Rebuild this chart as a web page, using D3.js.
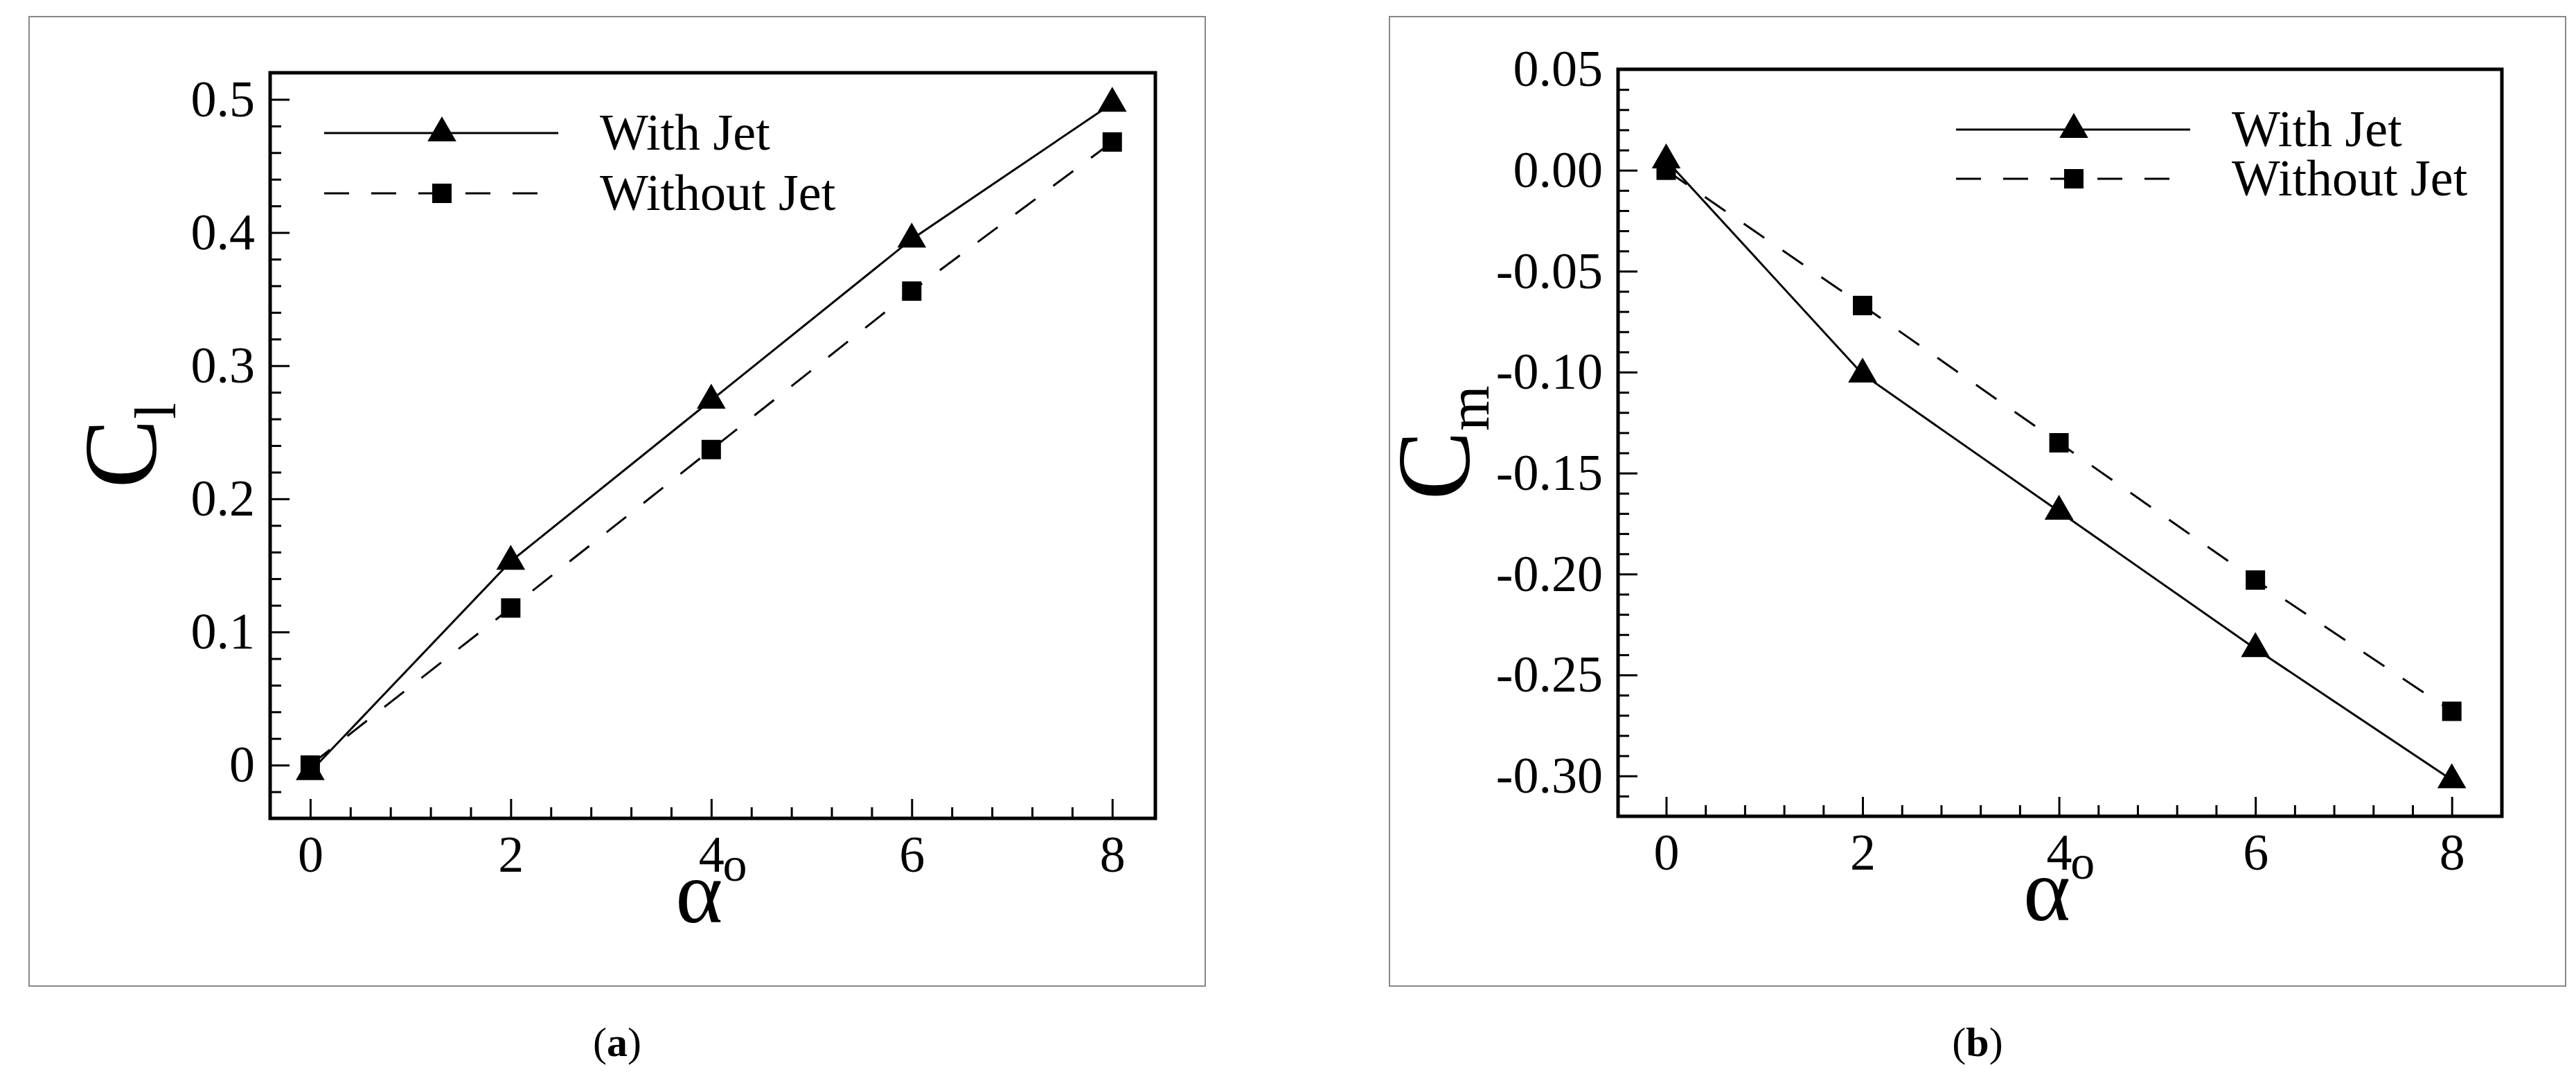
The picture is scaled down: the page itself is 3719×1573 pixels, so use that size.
<!DOCTYPE html>
<html lang="en">
<head>
<meta charset="UTF-8">
<script src="https://d3js.org/d3.v7.min.js"></script>
<style>
  body { margin: 0; background: #fff; }
  text { font-family: "Liberation Serif", "DejaVu Serif", serif; fill: #000; }
</style>
</head>
<body>
<svg id="chart" width="3719" height="1573"></svg>
<script>
// data
const alpha = [0, 2, 4, 6, 8];
const clWithJet = [-0.005, 0.153, 0.274, 0.395, 0.497];
const clWithoutJet = [0, 0.118, 0.237, 0.356, 0.468];
const cmWithJet = [0.005, -0.101, -0.169, -0.237, -0.302];
const cmWithoutJet = [0, -0.067, -0.135, -0.203, -0.268];
const xTicks = [0, 2, 4, 6, 8];
const clTicks = [0, 0.1, 0.2, 0.3, 0.4, 0.5];
const cmTicks = [0.05, 0, -0.05, -0.1, -0.15, -0.2, -0.25, -0.3];
const seriesNames = ["With Jet", "Without Jet"];

const svg = d3.select("#chart");

function panel(o) {
  // outer frame
  svg.append("rect").attr("x", o.frame[0]).attr("y", o.frame[1])
    .attr("width", o.frame[2]).attr("height", o.frame[3])
    .attr("fill", "none").attr("stroke", "#888").attr("stroke-width", 2);

  const x = d3.scaleLinear().domain(o.xdom).range([o.left, o.right]);
  const y = d3.scaleLinear().domain(o.ydom).range([o.bottom, o.top]);
  const g = svg.append("g");

  // minor ticks
  const xMinor = d3.range(0, 8.01, 0.4).filter(v => Math.abs(v / 2 - Math.round(v / 2)) > 1e-6);
  g.append("g").attr("transform", `translate(0,${o.bottom})`)
    .call(d3.axisBottom(x).tickValues(xMinor).tickSize(-16).tickFormat(""))
    .call(a => a.select(".domain").remove());
  g.append("g").attr("transform", `translate(${o.left},0)`)
    .call(d3.axisLeft(y).tickValues(o.yMinor).tickSize(-16).tickFormat(""))
    .call(a => a.select(".domain").remove());

  // major ticks
  g.append("g").attr("transform", `translate(0,${o.bottom})`)
    .call(d3.axisBottom(x).tickValues(xTicks).tickSizeInner(-28).tickSizeOuter(0).tickPadding(24).tickFormat(d3.format("d")))
    .call(a => a.select(".domain").remove())
    .selectAll("text").attr("font-size", 74);
  g.append("g").attr("transform", `translate(${o.left},0)`)
    .call(d3.axisLeft(y).tickValues(o.yTicks).tickSizeInner(-28).tickSizeOuter(0).tickPadding(22).tickFormat(o.fmt))
    .call(a => a.select(".domain").remove())
    .selectAll("text").attr("font-size", 74);
  g.selectAll(".tick line").attr("stroke", "#000").attr("stroke-width", 3);

  // box
  g.append("rect").attr("x", o.left).attr("y", o.top)
    .attr("width", o.right - o.left).attr("height", o.bottom - o.top)
    .attr("fill", "none").attr("stroke", "#000").attr("stroke-width", 5);

  const line = d3.line().x((d, i) => x(alpha[i])).y(d => y(d));
  [o.s1, o.s2].forEach((s, k) => {
    g.append("path").datum(s).attr("d", line).attr("fill", "none")
      .attr("stroke", "#000").attr("stroke-width", 3)
      .attr("stroke-dasharray", k ? "36,32" : null);
  });
  const tri = d3.symbol().type(d3.symbolTriangle).size(750);
  g.selectAll(".tri").data(o.s1).join("path")
    .attr("transform", (d, i) => `translate(${x(alpha[i])},${y(d)})`).attr("d", tri);
  g.selectAll(".sq").data(o.s2).join("rect")
    .attr("x", (d, i) => x(alpha[i]) - 14).attr("y", d => y(d) - 14)
    .attr("width", 28).attr("height", 28);

  // legend
  seriesNames.forEach((n, k) => {
    const ly = o.leg[1] + k * o.leg[3];
    g.append("line").attr("x1", o.leg[0]).attr("x2", o.leg[0] + 338)
      .attr("y1", ly).attr("y2", ly).attr("stroke", "#000").attr("stroke-width", 3)
      .attr("stroke-dasharray", k ? "36,32" : null);
    if (k) g.append("rect").attr("x", o.leg[0] + 156).attr("y", ly - 14).attr("width", 28).attr("height", 28);
    else g.append("path").attr("transform", `translate(${o.leg[0] + 170},${ly})`).attr("d", tri);
    g.append("text").attr("x", o.leg[2]).attr("y", ly + 24).attr("font-size", 74).text(n);
  });

  // axis titles
  const at = g.append("text").attr("x", x(4)).attr("y", o.bottom + 150)
    .attr("text-anchor", "middle").attr("font-size", 130);
  at.append("tspan").text("α");
  at.append("tspan").attr("font-size", 70).attr("dy", -60).text("o");
  const yt = g.append("text").attr("transform", `translate(${o.left - o.ylabOff},${(o.top + o.bottom) / 2}) rotate(-90)`)
    .attr("text-anchor", "middle").attr("font-size", 150);
  yt.append("tspan").text("C");
  yt.append("tspan").attr("font-size", 84).attr("dy", 28).text(o.sub);

  svg.append("text").attr("x", o.frame[0] + o.frame[2] / 2).attr("y", 1524)
    .attr("text-anchor", "middle").attr("font-size", 60)
    .html(`(<tspan font-weight="bold">${o.tag}</tspan>)`);
}

panel({
  frame: [42, 24, 1698, 1399], left: 390, right: 1668, top: 105, bottom: 1181,
  xdom: [-0.4, 8.43], ydom: [-0.04, 0.52], yTicks: clTicks,
  yMinor: d3.range(-0.04, 0.52, 0.02).filter(v => Math.abs(v * 10 - Math.round(v * 10)) > 1e-6),
  fmt: d => d === 0 ? "0" : d3.format(".1f")(d),
  s1: clWithJet, s2: clWithoutJet, leg: [468, 192, 866, 87], sub: "l", tag: "a", ylabOff: 165
});
panel({
  frame: [2006, 24, 1698, 1399], left: 2336, right: 3612, top: 100, bottom: 1178,
  xdom: [-0.49, 8.51], ydom: [-0.32, 0.05], yTicks: cmTicks,
  yMinor: d3.range(-0.32, 0.051, 0.01).filter(v => Math.abs(v * 20 - Math.round(v * 20)) > 1e-6),
  fmt: d => d3.format(".2f")(d).replace("−", "-"),
  s1: cmWithJet, s2: cmWithoutJet, leg: [2824, 187, 3222, 71], sub: "m", tag: "b", ylabOff: 215
});
</script>
</body>
</html>
